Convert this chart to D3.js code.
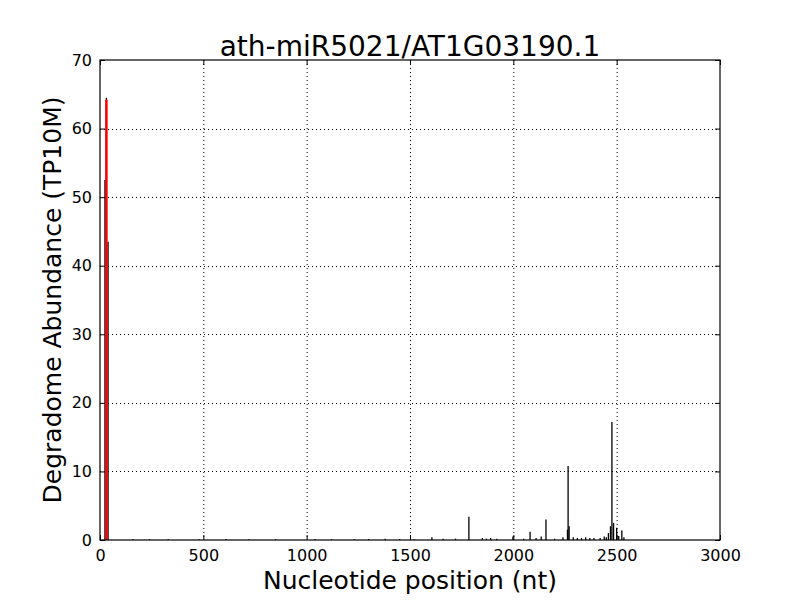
<!DOCTYPE html>
<html><head><meta charset="utf-8">
<script src="https://cdn.jsdelivr.net/npm/d3@7"></script>
<style>body{margin:0;background:#fff}svg{display:block}text{font-family:"DejaVu Sans",sans-serif}</style>
</head><body><svg id="c" width="800" height="600"></svg>
<script>
const titleText = "ath-miR5021/AT1G03190.1";
const xLabel = "Nucleotide position (nt)";
const yLabel = "Degradome Abundance (TP10M)";
const xTicks = [0, 500, 1000, 1500, 2000, 2500, 3000];
const yTicks = [0, 10, 20, 30, 40, 50, 60, 70];
// degradome peaks: position (nt) and abundance
const positions = [24, 31, 39, 160, 240, 330, 480, 610, 720, 850, 1040, 1120, 1230, 1300, 1380, 1450, 1520, 1606, 1660, 1720, 1785, 1850, 1870, 1890, 1920, 1998, 2050, 2081, 2110, 2135, 2158, 2200, 2240, 2262, 2265, 2270, 2290, 2310, 2330, 2350, 2370, 2390, 2420, 2440, 2450, 2460, 2470, 2477, 2485, 2500, 2510, 2525, 2535];
const values =    [52.5, 64.5, 43.5, 0.1, 0.1, 0.1, 0.1, 0.15, 0.1, 0.1, 0.15, 0.1, 0.1, 0.15, 0.2, 0.15, 0.1, 0.4, 0.2, 0.2, 3.4, 0.3, 0.2, 0.3, 0.2, 0.5, 0.2, 1.2, 0.3, 0.5, 3.0, 0.2, 0.4, 1.5, 10.8, 2.0, 0.4, 0.3, 0.3, 0.4, 0.3, 0.3, 0.3, 0.5, 0.4, 1.0, 2.0, 17.2, 2.5, 1.8, 0.6, 1.4, 0.4];
const sitePos = [31];
const siteVal = [64.2];

const svg = d3.select("#c");
const m = {l:100, r:720, t:60, b:540};
const x = d3.scaleLinear().domain([0,3000]).range([m.l, m.r]);
const y = d3.scaleLinear().domain([0,70]).range([m.b, m.t]);

// grid
const g = svg.append("g");
g.selectAll(".gx").data(xTicks.slice(1,-1)).join("line")
  .attr("x1", d=>x(d)+0.5).attr("x2", d=>x(d)+0.5).attr("y1", m.t).attr("y2", m.b)
  .attr("stroke","#000").attr("stroke-width",1).attr("stroke-dasharray","1,3");
g.selectAll(".gy").data(yTicks.slice(1,-1)).join("line")
  .attr("y1", d=>Math.round(y(d))+0.5).attr("y2", d=>Math.round(y(d))+0.5).attr("x1", m.l).attr("x2", m.r)
  .attr("stroke","#000").attr("stroke-width",1).attr("stroke-dasharray","1,3");

// bars
svg.append("g").selectAll("line").data(positions.map((p,i)=>[p, values[i]])).join("line")
  .attr("x1", d=>x(d[0])).attr("x2", d=>x(d[0]))
  .attr("y1", y(0)).attr("y2", d=>y(d[1]))
  .attr("stroke","#000").attr("stroke-width",1.3);
svg.append("g").selectAll("line").data(sitePos.map((p,i)=>[p, siteVal[i]])).join("line")
  .attr("x1", d=>x(d[0])).attr("x2", d=>x(d[0]))
  .attr("y1", y(0)).attr("y2", d=>y(d[1]))
  .attr("stroke","#ff0000").attr("stroke-width",2.5);

// frame
svg.append("rect").attr("x", m.l).attr("y", m.t).attr("width", m.r-m.l).attr("height", m.b-m.t)
  .attr("fill","none").attr("stroke","#000").attr("stroke-width",1.2);

// axes with inward ticks
const axB = d3.axisBottom(x).tickValues(xTicks).tickSizeInner(-5).tickSizeOuter(0).tickPadding(10).tickFormat(d3.format("d"));
const axT = d3.axisTop(x).tickValues(xTicks).tickSizeInner(-5).tickSizeOuter(0).tickFormat("");
const axL = d3.axisLeft(y).tickValues(yTicks).tickSizeInner(-5).tickSizeOuter(0).tickPadding(8).tickFormat(d3.format("d"));
const axR = d3.axisRight(y).tickValues(yTicks).tickSizeInner(-5).tickSizeOuter(0).tickFormat("");
function style(sel){ sel.select(".domain").remove(); sel.selectAll("line").attr("stroke","#000"); sel.selectAll("text").attr("font-size",16).attr("fill","#000").attr("font-family","DejaVu Sans"); }
svg.append("g").attr("transform",`translate(0,${m.b})`).call(axB).call(style);
svg.append("g").attr("transform",`translate(0,${m.t})`).call(axT).call(style);
svg.append("g").attr("transform",`translate(${m.l},0)`).call(axL).call(style);
svg.append("g").attr("transform",`translate(${m.r},0)`).call(axR).call(style);

svg.append("text").attr("x",410).attr("y",56).attr("text-anchor","middle").attr("font-size",28).text(titleText);
svg.append("text").attr("x",410).attr("y",589).attr("text-anchor","middle").attr("font-size",25).text(xLabel);
svg.append("text").attr("transform","translate(61,300) rotate(-90)").attr("text-anchor","middle").attr("font-size",25).text(yLabel);
</script></body></html>
